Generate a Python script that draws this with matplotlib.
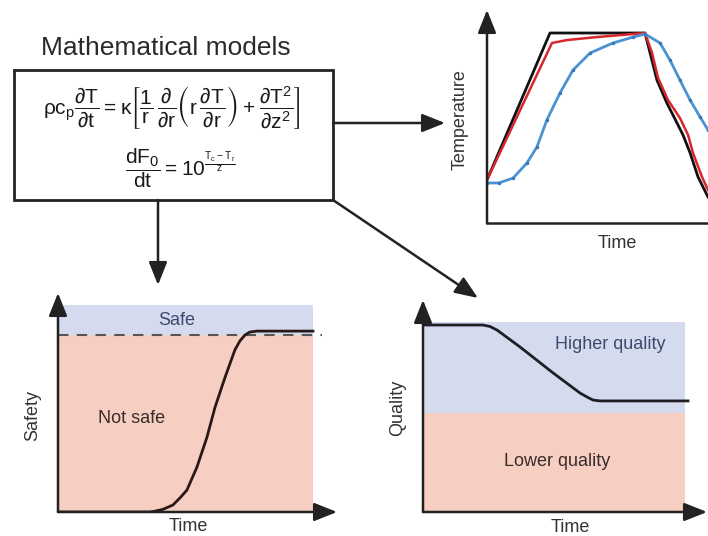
import matplotlib.pyplot as plt
from matplotlib.patches import Rectangle

plt.rcParams["font.family"] = ["Liberation Sans", "DejaVu Sans"]
plt.rcParams["mathtext.fontset"] = "dejavusans"
plt.rcParams["mathtext.default"] = "regular"

# temperature profiles (time, temperature), 0-100 scale
temp_black_t = [0, 28.5, 71.5, 73.8, 76.9, 81.4, 86.0, 88.7, 91.9, 95.5, 100]
temp_black_v = [20.2, 89.2, 89.2, 79.8, 67.1, 56.3, 46.9, 41.3, 32.9, 21.6, 12.2]
temp_red_t = [0, 29.4, 36.2, 49.8, 71.5, 74.7, 77.4, 81.9, 87.3, 91.0, 93.2, 97.3, 100]
temp_red_v = [20.2, 84.5, 85.9, 87.3, 89.2, 79.8, 68.1, 57.7, 49.3, 41.3, 32.9, 21.6, 15.5]
temp_blue_t = [0, 5.4, 11.8, 18.1, 22.6, 27.1, 33.0, 38.9, 46.6, 57.0, 66.1, 71.5,
               78.3, 82.8, 87.3, 91.9, 96.4, 100]
temp_blue_v = [18.8, 18.8, 21.1, 28.2, 35.7, 48.4, 61.0, 71.8, 79.8, 84.5, 87.3, 88.7,
               84.5, 76.5, 67.1, 57.7, 49.8, 43.7]

# safety curve
safe_t = [0, 33.0, 34.4, 37.6, 41.2, 43.7, 46.2, 49.8, 53.4, 56.3, 59.9, 63.4, 65.2,
          67.0, 68.8, 71.3, 91.4]
safe_v = [0, 0, 0.3, 1.2, 3.2, 6.4, 10.0, 20.5, 34.2, 47.9, 61.6, 74.0, 78.1,
          80.8, 82.2, 82.6, 82.6]
safe_limit = 80.8
safe_top = 94.5
safe_right = 91.4
safe_dash_right = 94.6

# quality curve
qual_t = [0, 21.1, 23.6, 26.1, 34.2, 45.8, 55.3, 58.1, 59.9, 62.3, 93.3]
qual_v = [88.2, 88.2, 87.5, 85.8, 77.8, 65.6, 56.1, 54.0, 52.8, 52.4, 52.4]
qual_limit = 46.7
qual_top = 89.6
qual_right = 92.3

BLUE_BG = "#d5dbee"
PINK_BG = "#f6cfc2"
INK = "#222222"
W, H = 708, 536

fig = plt.figure(figsize=(W / 100, H / 100), dpi=100)

# background canvas in pixel coordinates for the box and connector arrows
bg = fig.add_axes([0, 0, 1, 1])
bg.set_xlim(0, W)
bg.set_ylim(H, 0)
bg.axis("off")

arrow = dict(arrowstyle="-|>,head_length=1.0,head_width=0.4", color=INK, lw=1.8,
             shrinkA=0, shrinkB=0, mutation_scale=14)

bg.text(166, 48, "Mathematical models", ha="center", va="center", fontsize=19, color="#2a2a2a")
bg.add_patch(Rectangle((14, 70), 319, 130, fill=False, lw=2, ec=INK))
bg.text(172, 108,
        r"$\rho c_p\dfrac{\partial T}{\partial t} = \kappa\left[\dfrac{1}{r}\,\dfrac{\partial}{\partial r}"
        r"\left(r\,\dfrac{\partial T}{\partial r}\right) + \dfrac{\partial T^2}{\partial z^2}\right]$",
        ha="center", va="center", fontsize=15, color="#1a1a1a")
bg.text(180, 168, r"$\dfrac{dF_0}{dt} = 10^{\frac{T_c - T_r}{z}}$",
        ha="center", va="center", fontsize=15, color="#1a1a1a")

bg.annotate("", xy=(445, 123), xytext=(333, 123), arrowprops=arrow)
bg.annotate("", xy=(478, 298), xytext=(333, 200), arrowprops=arrow)
bg.annotate("", xy=(158, 285), xytext=(158, 200), arrowprops=arrow)


def frame(ax, x_arrow=True):
    ax.set_xticks([])
    ax.set_yticks([])
    for s in ax.spines.values():
        s.set_visible(False)
    ax.set_facecolor("none")
    ax.annotate("", xy=(0, 1), xytext=(0, 0), xycoords="axes fraction",
                arrowprops=arrow, annotation_clip=False)
    if x_arrow:
        ax.annotate("", xy=(1, 0), xytext=(0, 0), xycoords="axes fraction",
                    arrowprops=arrow, annotation_clip=False)
    else:
        ax.spines["bottom"].set_visible(True)
        ax.spines["bottom"].set_linewidth(1.8)
        ax.spines["bottom"].set_color(INK)


# temperature plot (top right)
ax1 = fig.add_axes([487 / W, (H - 223) / H, 221 / W, 213 / H])
ax1.set_xlim(0, 100)
ax1.set_ylim(0, 100)
frame(ax1, x_arrow=False)
ax1.plot(temp_black_t, temp_black_v, color="#111111", lw=2)
ax1.plot(temp_red_t, temp_red_v, color="#d8262b", lw=1.8)
ax1.plot(temp_blue_t, temp_blue_v, color="#4a92d2", lw=2, marker=".", ms=3,
         mfc="#3b78b8", mec="#3b78b8")
ax1.text(0.588, -0.094, "Time", transform=ax1.transAxes, ha="center", va="center",
         fontsize=13, color="#333333")
ax1.text(-0.122, 0.484, "Temperature", transform=ax1.transAxes, ha="center", va="center",
         rotation=90, fontsize=13, color="#333333")

# safety plot (bottom left)
ax2 = fig.add_axes([58 / W, 24 / H, 279 / W, 219 / H])
ax2.set_xlim(0, 100)
ax2.set_ylim(0, 100)
frame(ax2)
ax2.fill_between([0, safe_right], safe_limit, safe_top, color=BLUE_BG, lw=0)
ax2.fill_between([0, safe_right], 0, safe_limit, color=PINK_BG, lw=0)
ax2.plot([0, safe_dash_right], [safe_limit, safe_limit], color="#555555", lw=1.5,
         dashes=(5, 4), clip_on=False)
ax2.plot(safe_t, safe_v, color="#2a1816", lw=2)
ax2.text(42.7, 87.5, "Safe", ha="center", va="center", fontsize=13, color="#3d4a6e")
ax2.text(26.5, 42.9, "Not safe", ha="center", va="center", fontsize=13, color="#3a2c2a")
ax2.text(0.466, -0.068, "Time", transform=ax2.transAxes, ha="center", va="center",
         fontsize=13, color="#333333")
ax2.text(-0.09, 0.44, "Safety", transform=ax2.transAxes, ha="center", va="center",
         rotation=90, fontsize=13, color="#333333")

# quality plot (bottom right)
ax3 = fig.add_axes([423 / W, 24 / H, 284 / W, 212 / H])
ax3.set_xlim(0, 100)
ax3.set_ylim(0, 100)
frame(ax3)
ax3.fill_between([0, qual_right], qual_limit, qual_top, color=BLUE_BG, lw=0)
ax3.fill_between([0, qual_right], 0, qual_limit, color=PINK_BG, lw=0)
ax3.plot(qual_t, qual_v, color="#1e1e24", lw=2)
ax3.text(65.8, 78.8, "Higher quality", ha="center", va="center", fontsize=13, color="#3d4a6e")
ax3.text(47.2, 23.6, "Lower quality", ha="center", va="center", fontsize=13, color="#3a2c2a")
ax3.text(0.518, -0.071, "Time", transform=ax3.transAxes, ha="center", va="center",
         fontsize=13, color="#333333")
ax3.text(-0.088, 0.49, "Quality", transform=ax3.transAxes, ha="center", va="center",
         rotation=90, fontsize=13, color="#333333")

fig.savefig("out.png", dpi=100)
